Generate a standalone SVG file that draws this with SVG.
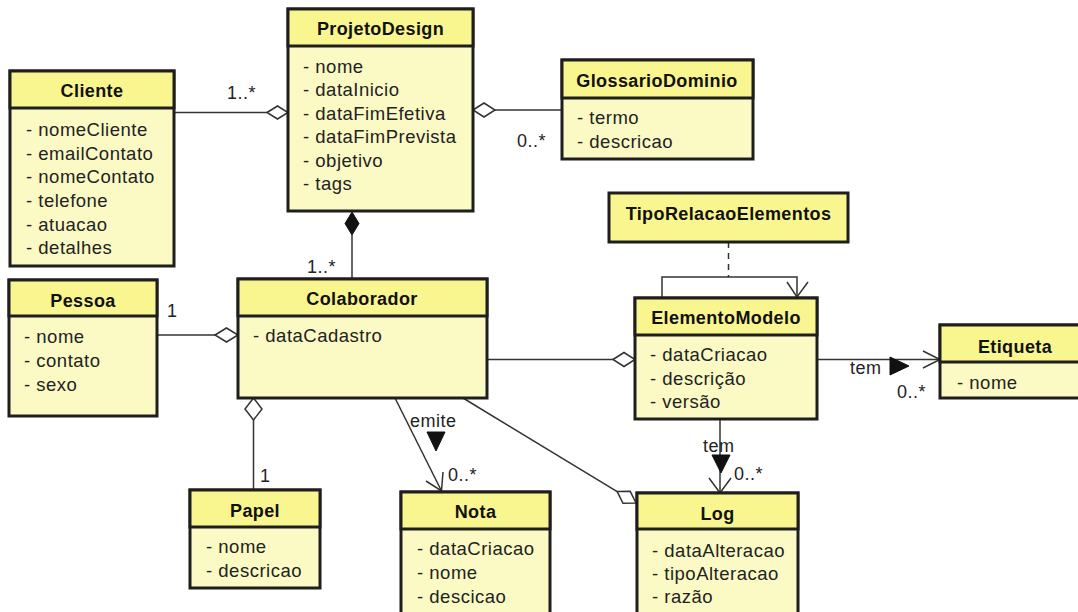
<svg xmlns="http://www.w3.org/2000/svg" width="1078" height="612" viewBox="0 0 1078 612">
<style>
.body{fill:#FBFAC4;stroke:#1e1e1e;stroke-width:3}
.head{fill:#F9F68F;stroke:#1e1e1e;stroke-width:3}
.sep{stroke:#1e1e1e;stroke-width:1.5}
.t{font-family:"Liberation Sans",Arial,sans-serif;font-size:18px;font-weight:bold;fill:#111;text-anchor:middle;letter-spacing:0.4px}
.a{font-family:"Liberation Sans",Arial,sans-serif;font-size:18.5px;fill:#222;letter-spacing:0.5px}
.l{font-family:"Liberation Sans",Arial,sans-serif;font-size:18px;fill:#222;letter-spacing:0.5px}
.c{fill:none;stroke:#333;stroke-width:1.5}
.hd{fill:#fff;stroke:#333;stroke-width:1.5}
.fd{fill:#111;stroke:#111;stroke-width:1}
</style>
<rect width="1078" height="612" fill="#fff"/>
<g id="connectors">
  <line class="c" x1="174" y1="112.5" x2="267" y2="112.5"/>
  <polygon class="hd" points="267,112.5 277.5,106 288,112.5 277.5,119"/>
  <text class="l" x="227" y="99">1..*</text>

  <polygon class="hd" points="473,110 484,103 495,110 484,117"/>
  <line class="c" x1="495" y1="110" x2="562" y2="110"/>
  <text class="l" x="517" y="147">0..*</text>

  <polygon class="fd" points="352,212 359,223.5 352,235 345,223.5"/>
  <line class="c" x1="352" y1="235" x2="352" y2="279"/>
  <text class="l" x="307" y="273">1..*</text>

  <line class="c" x1="157" y1="335" x2="215" y2="335"/>
  <polygon class="hd" points="215,335 226.5,328 238,335 226.5,342"/>
  <text class="l" x="167" y="317">1</text>

  <polygon class="hd" points="253.5,398 262,409 253.5,420 245,409"/>
  <line class="c" x1="253.5" y1="420" x2="253.5" y2="490"/>
  <text class="l" x="260" y="482">1</text>

  <line class="c" x1="395" y1="398" x2="441.5" y2="491"/>
  <polyline class="c" points="426,481 441.5,491 443,472"/>
  <text class="l" x="410" y="427">emite</text>
  <polygon class="fd" points="427,432 445,432 436,451"/>
  <text class="l" x="448" y="481">0..*</text>

  <line class="c" x1="463" y1="398" x2="617.2" y2="491.6"/>
  <polygon class="hd" points="617.2,491.6 630.2,491.3 636,503 623,503.3"/>

  <line class="c" x1="487" y1="359.5" x2="613" y2="359.5"/>
  <polygon class="hd" points="613,359.5 624,352.5 635,359.5 624,366.5"/>

  <line class="c" x1="817" y1="359.5" x2="940" y2="359.5"/>
  <polyline class="c" points="923,351 940,359.5 923,368"/>
  <text class="l" x="850" y="374">tem</text>
  <polygon class="fd" points="890,357 890,375 909,366"/>
  <text class="l" x="897" y="398">0..*</text>

  <line class="c" x1="720" y1="419" x2="720" y2="493"/>
  <polyline class="c" points="709,478 720,493 731,478"/>
  <text class="l" x="703" y="452">tem</text>
  <polygon class="fd" points="712,455 730,455 721,473"/>
  <text class="l" x="734" y="480">0..*</text>

  <polyline class="c" points="662,298 662,277 797,277 797,298"/>
  <polyline class="c" points="787,282 797,297 808,282"/>
  <line class="c" x1="728.5" y1="242" x2="728.5" y2="277" stroke-dasharray="6,5"/>
</g>

<g id="ProjetoDesign">
  <rect class="body" x="288" y="9" width="185" height="202"/>
  <rect class="head" x="288" y="9" width="185" height="37"/>
  <text class="t" x="380.5" y="35">ProjetoDesign</text>
  <text class="a" x="303" y="73">- nome</text>
  <text class="a" x="303" y="96">- dataInicio</text>
  <text class="a" x="303" y="120">- dataFimEfetiva</text>
  <text class="a" x="303" y="143">- dataFimPrevista</text>
  <text class="a" x="303" y="167">- objetivo</text>
  <text class="a" x="303" y="190">- tags</text>
</g>

<g id="Cliente">
  <rect class="body" x="10" y="71" width="164" height="195"/>
  <rect class="head" x="10" y="71" width="164" height="37"/>
  <text class="t" x="92" y="97">Cliente</text>
  <text class="a" x="26" y="136">- nomeCliente</text>
  <text class="a" x="26" y="160">- emailContato</text>
  <text class="a" x="26" y="183">- nomeContato</text>
  <text class="a" x="26" y="207">- telefone</text>
  <text class="a" x="26" y="231">- atuacao</text>
  <text class="a" x="26" y="254">- detalhes</text>
</g>

<g id="GlossarioDominio">
  <rect class="body" x="562" y="60" width="191" height="99"/>
  <rect class="head" x="562" y="60" width="191" height="38"/>
  <text class="t" x="657" y="87">GlossarioDominio</text>
  <text class="a" x="577" y="124">- termo</text>
  <text class="a" x="577" y="148">- descricao</text>
</g>

<g id="TipoRelacaoElementos">
  <rect class="head" x="609" y="193" width="239" height="49"/>
  <text class="t" x="728.5" y="220">TipoRelacaoElementos</text>
</g>

<g id="ElementoModelo">
  <rect class="body" x="635" y="298" width="182" height="121"/>
  <rect class="head" x="635" y="298" width="182" height="37"/>
  <text class="t" x="726" y="324">ElementoModelo</text>
  <text class="a" x="650" y="361">- dataCriacao</text>
  <text class="a" x="650" y="385">- descrição</text>
  <text class="a" x="650" y="408">- versão</text>
</g>

<g id="Etiqueta">
  <rect class="body" x="940" y="325" width="150" height="73"/>
  <rect class="head" x="940" y="325" width="150" height="37"/>
  <text class="t" x="1015" y="353">Etiqueta</text>
  <text class="a" x="957" y="389">- nome</text>
</g>

<g id="Pessoa">
  <rect class="body" x="9" y="280" width="148" height="136"/>
  <rect class="head" x="9" y="280" width="148" height="36"/>
  <text class="t" x="83" y="307">Pessoa</text>
  <text class="a" x="24" y="343">- nome</text>
  <text class="a" x="24" y="367">- contato</text>
  <text class="a" x="24" y="391">- sexo</text>
</g>

<g id="Colaborador">
  <rect class="body" x="238" y="279" width="249" height="119"/>
  <rect class="head" x="238" y="279" width="249" height="37"/>
  <text class="t" x="362" y="305">Colaborador</text>
  <text class="a" x="253" y="342">- dataCadastro</text>
</g>

<g id="Papel">
  <rect class="body" x="190" y="490" width="130" height="98"/>
  <rect class="head" x="190" y="490" width="130" height="37"/>
  <text class="t" x="255" y="517">Papel</text>
  <text class="a" x="206" y="553">- nome</text>
  <text class="a" x="206" y="577">- descricao</text>
</g>

<g id="Nota">
  <rect class="body" x="401" y="492" width="149" height="130"/>
  <rect class="head" x="401" y="492" width="149" height="37"/>
  <text class="t" x="475.5" y="518">Nota</text>
  <text class="a" x="417" y="555">- dataCriacao</text>
  <text class="a" x="417" y="579">- nome</text>
  <text class="a" x="417" y="603">- descicao</text>
</g>

<g id="Log">
  <rect class="body" x="637" y="493" width="161" height="130"/>
  <rect class="head" x="637" y="493" width="161" height="36"/>
  <text class="t" x="717.5" y="520">Log</text>
  <text class="a" x="652" y="557">- dataAlteracao</text>
  <text class="a" x="652" y="580">- tipoAlteracao</text>
  <text class="a" x="652" y="603">- razão</text>
</g>
</svg>
